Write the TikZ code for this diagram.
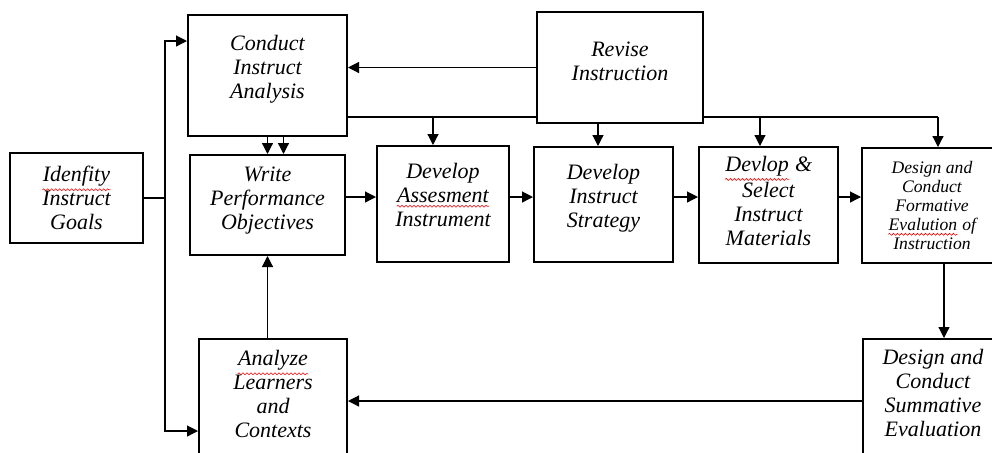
\documentclass[tikz,border=0pt]{standalone}
\usepackage{fontspec}
\setmainfont{Liberation Serif}
\usepackage{tikz}
\usetikzlibrary{positioning, arrows.meta, calc, decorations.pathmorphing}

% red wavy line under the misspelt words
\newcommand{\spell}[1]{\tikz[baseline=(w.base)]{\node[draw=none, inner sep=0pt, minimum size=0pt, text depth=, align=left] (w) {#1};
    \draw[red, line width=0.3pt, decorate, decoration={snake, amplitude=0.5pt, segment length=2pt}]
        ([yshift=-1.5pt]w.south west) -- ([yshift=-1.5pt]w.south east);}}

\tikzset{
    blk/.style={draw, line width=1pt, align=center, inner sep=0pt,
        font=\fontsize{11}{12}\selectfont\itshape},
    lift/.style={text depth=#1},
    arr/.style={line width=0.6pt, -{Triangle[length=5.5pt, width=5.5pt]}},
    wire/.style={line width=0.6pt}
}

\begin{document}
\begin{tikzpicture}[x=0.5pt, y=-0.5pt]
    \useasboundingbox (0,0) rectangle (992,452);
    \clip (0,0) rectangle (992,452);

    % Define nodes
    \node[blk, minimum width=66.5pt, minimum height=45pt] (goals) at (76.5,198) {\spell{Idenfity}\\Instruct\\Goals};
    \node[blk, lift=9pt, minimum width=79.5pt, minimum height=60.5pt] (analysis) at (267.5,75.5) {Conduct\\Instruct\\Analysis};
    \node[blk, lift=7pt, minimum width=77.5pt, minimum height=50pt] (objectives) at (267.5,205) {Write\\Performance\\Objectives};
    \node[blk, lift=6pt, minimum width=83pt, minimum height=55.5pt] (revise) at (620,67.5) {Revise\\Instruction};
    \node[blk, lift=9pt, minimum width=66pt, minimum height=58pt] (assess) at (443,204) {Develop\\\spell{Assesment}\\Instrument};
    \node[blk, lift=9pt, minimum width=69.5pt, minimum height=57.5pt] (strategy) at (603.5,204.5) {Develop\\Instruct\\Strategy};
    \node[blk, lift=4pt, minimum width=69.5pt, minimum height=58pt] (materials) at (768.5,205) {\spell{Devlop} \&\\Select\\Instruct\\Materials};
    \node[blk, minimum width=70pt, minimum height=57.5pt,
        font=\fontsize{8.8}{9.6}\selectfont\itshape] (formative) at (932,205.5) {Design and\\Conduct\\Formative\\\spell{Evalution} of\\Instruction};
    \node[blk, lift=7pt, minimum width=74pt, minimum height=62pt] (learners) at (273,401) {\spell{Analyze}\\Learners\\and\\Contexts};
    \node[blk, lift=8pt, minimum width=70pt, minimum height=62pt] (summative) at (933,401) {Design and\\Conduct\\Summative\\Evaluation};

    \coordinate (split) at (165,198);
    \coordinate (bus) at (0,117);
    \coordinate (chain) at (0,197);

    % Connectors
    \draw[wire] (goals.east) -- (split);
    \draw[arr] (split) |- ([yshift=-13.5pt]analysis.north west);
    \draw[arr] (split) |- ([yshift=-15pt]learners.west);
    \draw[arr] (analysis.south) -- (objectives.north);
    \draw[arr] ([xshift=8pt]analysis.south) -- ([xshift=8pt]objectives.north);
    \draw[arr] (revise.west) -- (revise.west -| analysis.east);
    \draw[wire] (analysis.east |- bus) -- (revise.west |- bus);
    \draw[wire] (revise.east |- bus) -- ([xshift=3pt]formative.north |- bus);
    \draw[arr] ([xshift=-5pt]assess.north |- bus) -- ([xshift=-5pt]assess.north);
    \draw[arr] ([xshift=-2.75pt]strategy.north |- revise.south) -- ([xshift=-2.75pt]strategy.north);
    \draw[arr] ([xshift=-4.25pt]materials.north |- bus) -- ([xshift=-4.25pt]materials.north);
    \draw[arr] ([xshift=3pt]formative.north |- bus) -- ([xshift=3pt]formative.north);
    \draw[arr] (objectives.east |- chain) -- (assess.west |- chain);
    \draw[arr] (assess.east |- chain) -- (strategy.west |- chain);
    \draw[arr] (strategy.east |- chain) -- (materials.west |- chain);
    \draw[arr] (materials.east |- chain) -- (formative.west |- chain);
    \draw[arr] ([xshift=6pt]formative.south) -- ([xshift=6pt]formative.south |- summative.north);
    \draw[arr] (summative.west) -- (summative.west -| learners.east);
    \draw[arr] (objectives.south |- learners.north) -- (objectives.south);
\end{tikzpicture}
\end{document}
